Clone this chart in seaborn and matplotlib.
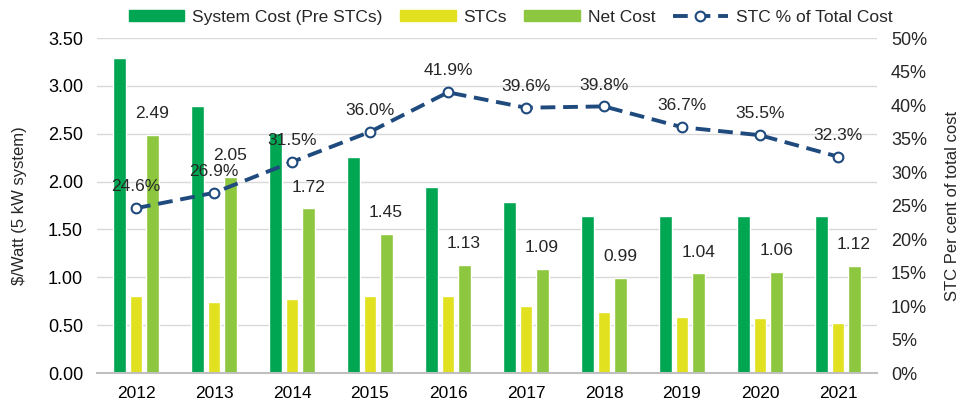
import numpy as np
import pandas as pd
import seaborn as sns
import matplotlib

matplotlib.use('Agg')
import matplotlib.pyplot as plt
from matplotlib.lines import Line2D
from matplotlib.patches import Patch

years = ['2012', '2013', '2014', '2015', '2016', '2017', '2018', '2019', '2020', '2021']
system_cost = [3.29, 2.79, 2.51, 2.26, 1.94, 1.79, 1.64, 1.64, 1.64, 1.64]
stcs = [0.80, 0.74, 0.77, 0.80, 0.80, 0.70, 0.64, 0.59, 0.57, 0.52]
net_cost = [2.49, 2.05, 1.72, 1.45, 1.13, 1.09, 0.99, 1.04, 1.06, 1.12]
stc_pct = [24.6, 26.9, 31.5, 36.0, 41.9, 39.6, 39.8, 36.7, 35.5, 32.3]

series = ['System Cost (Pre STCs)', 'STCs', 'Net Cost']
colors = ['#00A651', '#E1E11F', '#8DC63F']
line_color = '#1F4A7E'

df = pd.DataFrame({
    'year': years * 3,
    'value': system_cost + stcs + net_cost,
    'series': [s for s in series for _ in years],
})

sns.set_theme(style='white')
plt.rcParams['font.family'] = ['Liberation Sans', 'DejaVu Sans']

fig = plt.figure(figsize=(9.6, 4.05), dpi=100)
ax = fig.add_axes([0.101, 0.079, 0.8125, 0.827])

sns.barplot(data=df, x='year', y='value', hue='series', palette=colors,
            width=0.62, gap=0.2, ax=ax, saturation=1, legend=False)
ax.set_ylim(0, 3.5)
ticks = np.arange(0, 3.51, 0.5)
ax.set_yticks(ticks)
ax.set_yticklabels([f'{v:.2f}' for v in ticks])
ax.yaxis.grid(True, color='#D9D9D9', linewidth=1)
ax.set_axisbelow(True)
for s in ['top', 'left', 'right']:
    ax.spines[s].set_visible(False)
ax.spines['bottom'].set_color('#BFBFBF')
ax.spines['bottom'].set_linewidth(1.5)
ax.tick_params(axis='y', length=0, labelsize=13, colors='#000000', pad=10)
ax.tick_params(axis='x', length=0, labelsize=12.5, colors='#000000', pad=9)
ax.set_xlabel('')
ax.set_ylabel('$/Watt (5 kW system)', fontsize=12, labelpad=15)
ax.set_xlim(-0.5, len(years) - 0.5)

ax.bar_label(ax.containers[2], labels=[f'{v:.2f}' for v in net_cost],
             padding=10, fontsize=12.5)

ax2 = ax.twinx()
x = np.arange(len(years))
sns.lineplot(x=x, y=np.array(stc_pct) / 100, ax=ax2, color=line_color,
             linewidth=2.8, linestyle=(0, (3.8, 2.0)),
             marker='o', markersize=7, markerfacecolor='white',
             markeredgecolor=line_color, markeredgewidth=1.5)
for xi, p in zip(x, stc_pct):
    ax2.annotate(f'{p:.1f}%', (xi, p / 100), xytext=(0, 10),
                 textcoords='offset points', ha='center', va='bottom', fontsize=12.5)
ax2.set_ylim(0, 0.5)
pticks = np.arange(0, 0.51, 0.05)
ax2.set_yticks(pticks)
ax2.set_yticklabels([f'{int(round(v * 100))}%' for v in pticks])
for s in ['top', 'left', 'right', 'bottom']:
    ax2.spines[s].set_visible(False)
ax2.tick_params(axis='y', length=0, labelsize=13, pad=10)
ax2.set_ylabel('STC Per cent of total cost', fontsize=12, labelpad=13)
ax2.set_xlim(-0.5, len(years) - 0.5)

handles = [Patch(color=c) for c in colors]
handles.append(Line2D([0], [0], color=line_color, linewidth=2.8,
                      linestyle=(0, (3.8, 2.0)), marker='o', markersize=7,
                      markerfacecolor='white', markeredgecolor=line_color,
                      markeredgewidth=1.5))
fig.legend(handles, series + ['STC % of Total Cost'], loc='upper center',
           bbox_to_anchor=(0.532, 1.015), ncol=4, frameon=False, fontsize=12.5,
           handlelength=3.2, handleheight=0.55, columnspacing=1.0, handletextpad=0.45)

fig.savefig('out.png', dpi=100)
